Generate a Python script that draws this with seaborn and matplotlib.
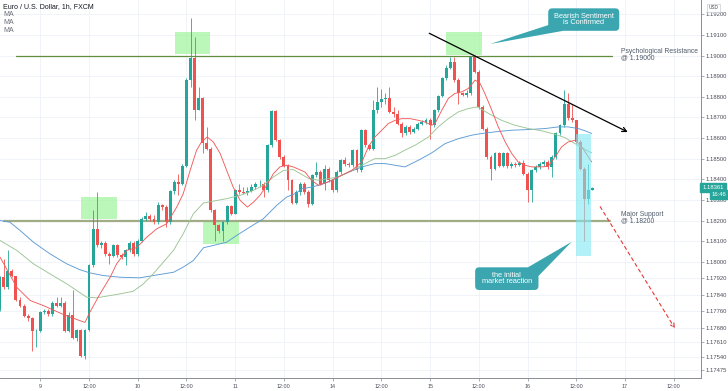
import matplotlib
matplotlib.use("Agg")
import matplotlib.pyplot as plt
import matplotlib.transforms as mtransforms
from matplotlib.patches import Rectangle, Polygon, FancyBboxPatch
import pandas as pd
import seaborn as sns

# colores estilo tradingview
UP = "#26a69a"
DOWN = "#ef5350"
GRID = "#eef1f6"
AXIS = "#8a8d96"
TXT = "#4a4e5a"
CALLOUT = "#3ba6b0"

# --- datos: velas de 1h (indice de hora desde el dia 9 00:00) ---
hours = list(range(-10, 137))

opens = [1.17771, 1.17925, 1.17876, 1.17957, 1.17930, 1.17815, 1.17787, 1.17739, 1.17728, 1.17663,
         1.17666, 1.17755, 1.17763, 1.17747, 1.17800, 1.17787, 1.17800, 1.17663, 1.17744, 1.17630,
         1.17669, 1.17544, 1.17669, 1.17982, 1.18160, 1.18079, 1.18090, 1.18039, 1.18030, 1.18079,
         1.18035, 1.18025, 1.18055, 1.18090, 1.18039, 1.18103, 1.18208, 1.18220, 1.18208, 1.18192,
         1.18273, 1.18265, 1.18192, 1.18341, 1.18387, 1.18379, 1.18465, 1.18881, 1.18986, 1.18738,
         1.18792, 1.18578, 1.18549, 1.18249, 1.18176, 1.18149, 1.18192, 1.18268, 1.18233, 1.18346,
         1.18338, 1.18333, 1.18343, 1.18362, 1.18375, 1.18379, 1.18346, 1.18565, 1.18732, 1.18592,
         1.18508, 1.18465, 1.18398, 1.18285, 1.18338, 1.18379, 1.18338, 1.18281, 1.18419, 1.18435,
         1.18379, 1.18451, 1.18395, 1.18346, 1.18435, 1.18492, 1.18473, 1.18468, 1.18541, 1.18443,
         1.18638, 1.18565, 1.18549, 1.18735, 1.18776, 1.18787, 1.18792, 1.18727, 1.18716, 1.18670,
         1.18622, 1.18654, 1.18630, 1.18646, 1.18670, 1.18678, 1.18686, 1.18662, 1.18735, 1.18803,
         1.18889, 1.18942, 1.18970, 1.18881, 1.18816, 1.18808, 1.18816, 1.18994, 1.18921, 1.18751,
         1.18646, 1.18508, 1.18451, 1.18525, 1.18463, 1.18528, 1.18463, 1.18476, 1.18468, 1.18479,
         1.18427, 1.18346, 1.18443, 1.18460, 1.18473, 1.18484, 1.18460, 1.18508, 1.18622, 1.18662,
         1.18767, 1.18695, 1.18686, 1.18581, 1.18451, 1.18306, 1.18346]

closes = [1.17925, 1.17876, 1.17957, 1.17930, 1.17815, 1.17787, 1.17739, 1.17728, 1.17663, 1.17666,
          1.17755, 1.17763, 1.17747, 1.17800, 1.17787, 1.17800, 1.17663, 1.17744, 1.17630, 1.17669,
          1.17544, 1.17669, 1.17982, 1.18160, 1.18079, 1.18090, 1.18039, 1.18030, 1.18079, 1.18035,
          1.18025, 1.18055, 1.18090, 1.18039, 1.18103, 1.18208, 1.18220, 1.18208, 1.18192, 1.18273,
          1.18265, 1.18192, 1.18341, 1.18387, 1.18379, 1.18465, 1.18881, 1.18986, 1.18738, 1.18792,
          1.18578, 1.18549, 1.18249, 1.18176, 1.18149, 1.18192, 1.18268, 1.18233, 1.18346, 1.18338,
          1.18333, 1.18343, 1.18362, 1.18375, 1.18379, 1.18346, 1.18565, 1.18732, 1.18592, 1.18508,
          1.18465, 1.18398, 1.18285, 1.18338, 1.18379, 1.18338, 1.18281, 1.18419, 1.18435, 1.18379,
          1.18451, 1.18395, 1.18346, 1.18435, 1.18492, 1.18473, 1.18468, 1.18541, 1.18443, 1.18638,
          1.18565, 1.18549, 1.18735, 1.18776, 1.18787, 1.18792, 1.18727, 1.18716, 1.18670, 1.18622,
          1.18654, 1.18630, 1.18646, 1.18670, 1.18678, 1.18686, 1.18662, 1.18735, 1.18803, 1.18889,
          1.18942, 1.18970, 1.18881, 1.18816, 1.18808, 1.18816, 1.18994, 1.18921, 1.18751, 1.18646,
          1.18508, 1.18451, 1.18525, 1.18463, 1.18528, 1.18463, 1.18476, 1.18468, 1.18479, 1.18427,
          1.18346, 1.18443, 1.18460, 1.18473, 1.18484, 1.18460, 1.18508, 1.18622, 1.18662, 1.18767,
          1.18695, 1.18686, 1.18581, 1.18451, 1.18306, 1.18346, 1.18358]

highs = [1.17933, 1.18014, 1.18058, 1.17966, 1.17933, 1.17828, 1.17795, 1.17747, 1.17734, 1.17674,
         1.17763, 1.17771, 1.17771, 1.17812, 1.17828, 1.17828, 1.17812, 1.17755, 1.17863, 1.17674,
         1.17674, 1.17674, 1.17990, 1.18249, 1.18338, 1.18103, 1.18103, 1.18047, 1.18087, 1.18087,
         1.18042, 1.18063, 1.18103, 1.18103, 1.18111, 1.18217, 1.18241, 1.18230, 1.18225, 1.18290,
         1.18281, 1.18273, 1.18346, 1.18395, 1.18427, 1.18473, 1.18889, 1.19181, 1.19091, 1.18848,
         1.18800, 1.18654, 1.18557, 1.18257, 1.18184, 1.18200, 1.18277, 1.18277, 1.18354, 1.18379,
         1.18362, 1.18362, 1.18379, 1.18387, 1.18395, 1.18387, 1.18573, 1.18738, 1.18738, 1.18597,
         1.18516, 1.18473, 1.18403, 1.18346, 1.18387, 1.18387, 1.18346, 1.18427, 1.18484, 1.18443,
         1.18468, 1.18460, 1.18403, 1.18443, 1.18500, 1.18508, 1.18484, 1.18549, 1.18549, 1.18646,
         1.18646, 1.18573, 1.18784, 1.18848, 1.18840, 1.18816, 1.18848, 1.18751, 1.18735, 1.18678,
         1.18662, 1.18662, 1.18654, 1.18678, 1.18686, 1.18695, 1.18695, 1.18743, 1.18808, 1.18897,
         1.18954, 1.18994, 1.18994, 1.18889, 1.18824, 1.18832, 1.18997, 1.19002, 1.18929, 1.18759,
         1.18654, 1.18516, 1.18533, 1.18533, 1.18533, 1.18533, 1.18484, 1.18484, 1.18489, 1.18492,
         1.18435, 1.18451, 1.18468, 1.18484, 1.18492, 1.18492, 1.18516, 1.18630, 1.18670, 1.18832,
         1.18816, 1.18767, 1.18686, 1.18589, 1.18460, 1.18476, 1.18362]

lows = [1.17763, 1.17868, 1.17868, 1.17925, 1.17808, 1.17779, 1.17731, 1.17715, 1.17569, 1.17585,
        1.17658, 1.17747, 1.17739, 1.17739, 1.17779, 1.17779, 1.17658, 1.17658, 1.17625, 1.17617,
        1.17536, 1.17528, 1.17666, 1.17974, 1.18071, 1.18068, 1.18030, 1.17990, 1.18022, 1.18025,
        1.18014, 1.17982, 1.18047, 1.18030, 1.18030, 1.18095, 1.18200, 1.18200, 1.18184, 1.18184,
        1.18249, 1.18168, 1.18184, 1.18330, 1.18322, 1.18371, 1.18460, 1.18848, 1.18686, 1.18735,
        1.18525, 1.18541, 1.18241, 1.18103, 1.18139, 1.18103, 1.18184, 1.18225, 1.18230, 1.18330,
        1.18327, 1.18322, 1.18338, 1.18354, 1.18362, 1.18314, 1.18338, 1.18557, 1.18586, 1.18500,
        1.18460, 1.18346, 1.18278, 1.18281, 1.18322, 1.18330, 1.18265, 1.18273, 1.18411, 1.18371,
        1.18346, 1.18387, 1.18338, 1.18338, 1.18427, 1.18463, 1.18460, 1.18460, 1.18435, 1.18435,
        1.18557, 1.18541, 1.18541, 1.18719, 1.18751, 1.18767, 1.18719, 1.18703, 1.18662, 1.18605,
        1.18614, 1.18618, 1.18622, 1.18638, 1.18662, 1.18670, 1.18597, 1.18654, 1.18727, 1.18797,
        1.18881, 1.18933, 1.18873, 1.18767, 1.18803, 1.18800, 1.18808, 1.18913, 1.18743, 1.18638,
        1.18500, 1.18395, 1.18443, 1.18460, 1.18460, 1.18456, 1.18456, 1.18460, 1.18463, 1.18419,
        1.18290, 1.18290, 1.18435, 1.18451, 1.18463, 1.18451, 1.18411, 1.18500, 1.18614, 1.18654,
        1.18686, 1.18678, 1.18573, 1.18443, 1.18103, 1.18281, 1.18346]

# medias moviles (hora, precio)
ma_fast = [(-9.9, 1.18022), (-5.8, 1.17876), (-2.5, 1.17812), (0.8, 1.17787), (5.7, 1.17744),
           (9.8, 1.17714), (11.0, 1.17706), (12.2, 1.17755), (14.7, 1.17844), (17.2, 1.17925),
           (18.8, 1.17990), (21.3, 1.18055), (23.7, 1.18068), (26.2, 1.18119), (28.7, 1.18160),
           (31.1, 1.18184), (33.6, 1.18265), (35.2, 1.18330), (36.9, 1.18443), (38.5, 1.18541),
           (39.7, 1.18581), (41.1, 1.18605), (42.6, 1.18581), (44.3, 1.18525), (45.9, 1.18443),
           (47.5, 1.18362), (49.2, 1.18298), (51.0, 1.18265), (52.5, 1.18289), (54.1, 1.18322),
           (55.8, 1.18371), (57.4, 1.18427), (59.0, 1.18460), (60.7, 1.18468), (62.3, 1.18460),
           (65.2, 1.18435), (66.8, 1.18395), (68.5, 1.18371), (70.9, 1.18387), (74.2, 1.18419),
           (76.7, 1.18443), (79.2, 1.18484), (80.8, 1.18557), (82.4, 1.18605), (84.1, 1.18638),
           (85.7, 1.18670), (87.4, 1.18686), (89.0, 1.18694), (91.1, 1.18694), (93.1, 1.18686),
           (94.7, 1.18678), (96.4, 1.18662), (97.2, 1.18670), (98.9, 1.18735), (100.5, 1.18792),
           (102.1, 1.18816), (103.8, 1.18824), (105.4, 1.18840), (107.1, 1.18881), (108.3, 1.18865),
           (109.5, 1.18816), (111.2, 1.18735), (112.8, 1.18654), (114.5, 1.18581), (116.1, 1.18525),
           (117.7, 1.18484), (119.4, 1.18468), (121.0, 1.18460), (123.5, 1.18460), (125.1, 1.18463),
           (126.8, 1.18508), (128.4, 1.18557), (130.0, 1.18581), (131.7, 1.18589), (133.4, 1.18557),
           (135.0, 1.18508), (135.8, 1.18484)]

ma_mid = [(-9.9, 1.18103), (-5.8, 1.18055), (-1.7, 1.17990), (2.4, 1.17941), (6.5, 1.17893),
          (9.0, 1.17860), (11.4, 1.17828), (13.9, 1.17825), (17.2, 1.17836), (20.4, 1.17847),
          (22.9, 1.17857), (25.4, 1.17893), (27.8, 1.17941), (30.3, 1.17998), (32.8, 1.18055),
          (35.2, 1.18136), (37.7, 1.18233), (40.2, 1.18285), (42.6, 1.18294), (45.9, 1.18306),
          (49.2, 1.18322), (52.5, 1.18346), (54.9, 1.18371), (57.4, 1.18411), (59.9, 1.18443),
          (62.3, 1.18447), (66.0, 1.18405), (68.5, 1.18395), (70.9, 1.18403), (73.4, 1.18411),
          (75.9, 1.18435), (79.2, 1.18468), (82.4, 1.18500), (84.9, 1.18500), (87.4, 1.18516),
          (89.8, 1.18541), (92.3, 1.18565), (95.6, 1.18605), (98.0, 1.18654), (100.5, 1.18694),
          (103.0, 1.18727), (105.4, 1.18743), (107.7, 1.18751), (110.4, 1.18719), (113.6, 1.18686),
          (116.9, 1.18662), (120.2, 1.18646), (123.5, 1.18635), (126.8, 1.18618), (129.2, 1.18602),
          (131.7, 1.18573), (134.2, 1.18544), (135.8, 1.18528)]

ma_slow = [(-9.9, 1.18200), (-7.5, 1.18192), (-5.0, 1.18152), (-1.7, 1.18095), (2.4, 1.18038),
           (6.5, 1.17990), (9.8, 1.17961), (12.2, 1.17946), (15.5, 1.17933), (19.6, 1.17925),
           (24.5, 1.17922), (27.8, 1.17933), (30.3, 1.17941), (32.8, 1.17949), (35.2, 1.17974),
           (37.7, 1.18006), (40.2, 1.18068), (42.6, 1.18079), (45.9, 1.18095), (48.4, 1.18128),
           (51.6, 1.18168), (54.9, 1.18208), (58.2, 1.18273), (60.7, 1.18314), (63.1, 1.18333),
           (64.4, 1.18354), (66.8, 1.18362), (69.3, 1.18375), (71.8, 1.18395), (74.2, 1.18419),
           (76.7, 1.18440), (79.2, 1.18460), (82.4, 1.18476), (84.9, 1.18476), (87.4, 1.18468),
           (89.8, 1.18460), (93.1, 1.18492), (96.4, 1.18528), (99.7, 1.18573), (103.0, 1.18597),
           (106.3, 1.18614), (108.7, 1.18622), (112.0, 1.18630), (116.1, 1.18638), (120.2, 1.18641),
           (124.3, 1.18646), (127.6, 1.18654), (130.0, 1.18654), (132.5, 1.18646), (134.2, 1.18635),
           (135.8, 1.18622)]

# ejes
x_ticks = [0, 12, 24, 36, 48, 60, 72, 84, 96, 108, 120, 132, 144, 156]
x_labels = ["9", "12:00", "10", "12:00", "11", "12:00", "14", "12:00",
            "15", "12:00", "16", "12:00", "17", "12:00"]
y_ticks = [1.19200, 1.19100, 1.19000, 1.18900, 1.18800, 1.18700, 1.18600, 1.18500,
           1.18400, 1.18300, 1.18200, 1.18100, 1.18000, 1.17920, 1.17840, 1.17760,
           1.17680, 1.17610, 1.17540, 1.17475]

resistance = 1.19000
support = 1.18200
last_price = 1.18361

# ---------------------------------------------------------------
sns.set_theme(style="white")
plt.rcParams['font.family'] = ['Liberation Sans', 'DejaVu Sans']

df = pd.DataFrame({"h": hours, "o": opens, "hi": highs, "lo": lows, "c": closes})
df["color"] = [UP if c >= o else DOWN for o, c in zip(df.o, df.c)]

fig = plt.figure(figsize=(7.28, 3.91), dpi=100)
ax = fig.add_axes([0, 13 / 391, 701 / 728, 378 / 391])
ax.set_facecolor("white")

ax.set_xlim(-9.93, 162.73)
ax.set_ylim(1.174362, 1.192694)

# rectangulos verdes (zonas)
for (x0, x1, y0, y1) in [(33.1, 41.9, 1.19007, 1.19114), (10.1, 18.8, 1.18207, 1.18314),
                         (40.1, 48.9, 1.18086, 1.18193), (100.0, 108.8, 1.19004, 1.19114)]:
    ax.add_patch(Rectangle((x0, y0), x1 - x0, y1 - y0, facecolor="#a4f5a0",
                           edgecolor="none", alpha=0.75, zorder=1))

# niveles
ax.plot([-6.0, 140.7], [resistance, resistance], color="#5f8f3e", lw=0.9, zorder=2)
ax.plot([-9.0, 140.3], [support, support], color="#9fac86", lw=1.6, zorder=2)

# velas
body_lo = [min(o, c) for o, c in zip(df.o, df.c)]
body_h = [max(abs(c - o), 0.00003) for o, c in zip(df.o, df.c)]
ax.vlines(df.h, df.lo, df.hi, colors=df.color, lw=0.6, zorder=3)
ax.bar(df.h, body_h, bottom=body_lo, width=0.72, color=df.color, linewidth=0, zorder=3)

# medias moviles
for serie, col, lw in [(ma_slow, "#5b9bd5", 0.65), (ma_mid, "#9cc594", 0.65), (ma_fast, "#f25a5a", 0.65)]:
    mh, mp = zip(*serie)
    sns.lineplot(x=list(mh), y=list(mp), ax=ax, color=col, linewidth=lw, estimator=None,
                 sort=False, legend=False, zorder=4)

# zona cian de la reaccion
ax.add_patch(Rectangle((131.9, 1.18027), 3.7, 1.18619 - 1.18027, facecolor="#7fe9f2",
                       edgecolor="none", alpha=0.6, zorder=5))

# linea de tendencia
ax.annotate("", xy=(144.7, 1.18629), xytext=(95.8, 1.19108),
            arrowprops=dict(arrowstyle="->", color="black", lw=0.9, shrinkA=0, shrinkB=0,
                            mutation_scale=8), zorder=6)
# proyeccion bajista
ax.annotate("", xy=(156.3, 1.17677), xytext=(137.9, 1.18267),
            arrowprops=dict(arrowstyle="->", color="#e53935", lw=0.8, linestyle=(0, (3, 3)),
                            shrinkA=0, shrinkB=0, mutation_scale=7), zorder=6)

# etiquetas de niveles
ax.text(143.0, 1.19003, "Psychological Resistance\n@ 1.19000", fontsize=4.9, color="#4f5b6b",
        va="center", ha="left", linespacing=0.85, zorder=7)
ax.text(143.0, 1.18212, "Major Support\n@ 1.18200", fontsize=4.9, color="#4f5b6b",
        va="center", ha="left", linespacing=0.85, zorder=7)

# globos
asp = 0.000197
for (x0, y0, w, h, tri, txt) in [
        (125.1, 1.19120, 17.5, 0.00109,
         [(126.4, 1.19156), (128.8, 1.19120), (110.8, 1.19056)],
         "Bearish Sentiment\nis Confirmed"),
        (107.1, 1.17863, 15.6, 0.00110,
         [(120.1, 1.17973), (122.7, 1.17931), (130.9, 1.18097)],
         "the initial\nmarket reaction")]:
    ax.add_patch(Polygon(tri, closed=True, facecolor=CALLOUT, edgecolor="none", zorder=8))
    ax.add_patch(FancyBboxPatch((x0, y0), w, h, boxstyle="round,pad=0,rounding_size=1.0",
                                mutation_aspect=asp, facecolor=CALLOUT, edgecolor="none", zorder=8))
    ax.text(x0 + w / 2, y0 + h / 2, txt, color="white", fontsize=5.3, ha="center", va="center",
            linespacing=0.85, zorder=9)

# ticks y rejilla
ax.set_xticks(x_ticks)
ax.set_xticklabels(x_labels)
ax.set_yticks(y_ticks)
ax.set_yticklabels([f"{v:.5f}" for v in y_ticks])
ax.yaxis.tick_right()
ax.tick_params(axis="y", right=True, left=False, length=2, width=0.5, pad=1.5,
               labelsize=4.2, colors=AXIS, labelcolor=TXT)
ax.tick_params(axis="x", bottom=True, length=2, width=0.5, pad=2,
               labelsize=3.9, colors=AXIS, labelcolor=TXT)
ax.grid(True, color=GRID, lw=0.6, zorder=0)
ax.set_axisbelow(True)
for s in ["top", "left"]:
    ax.spines[s].set_visible(False)
for s in ["right", "bottom"]:
    ax.spines[s].set_color(AXIS)
    ax.spines[s].set_linewidth(0.7)
ax.set_xlabel("")
ax.set_ylabel("")

# etiqueta de precio actual
tr = mtransforms.blended_transform_factory(ax.transAxes, ax.transData)
ax.text(1.002, last_price, "1.18361", transform=tr, fontsize=4.2, color="white", va="center",
        ha="left", clip_on=False, zorder=10,
        bbox=dict(boxstyle="square,pad=0.35", fc=UP, ec=UP))
ax.text(1.015, last_price - 0.00036, "16:46", transform=tr, fontsize=4.2, color="white",
        va="center", ha="left", clip_on=False, zorder=10,
        bbox=dict(boxstyle="square,pad=0.3", fc=UP, ec=UP))
ax.text(1.011, 1.19231, "USD", transform=tr, fontsize=3.4, color=TXT, va="center", ha="left",
        clip_on=False, bbox=dict(boxstyle="square,pad=0.3", fc="white", ec="#c9ccd3", lw=0.5))

# titulo
fig.text(3 / 728, 1 - 7 / 391, "Euro / U.S. Dollar, 1h, FXCM", fontsize=5, color="#131722",
         va="center", ha="left")
for i in range(3):
    fig.text(3 / 728, 1 - (15 + 8 * i) / 391, "MA", fontsize=5, color="#6a6d78",
             va="center", ha="left")

fig.savefig("out.png", dpi=100)
